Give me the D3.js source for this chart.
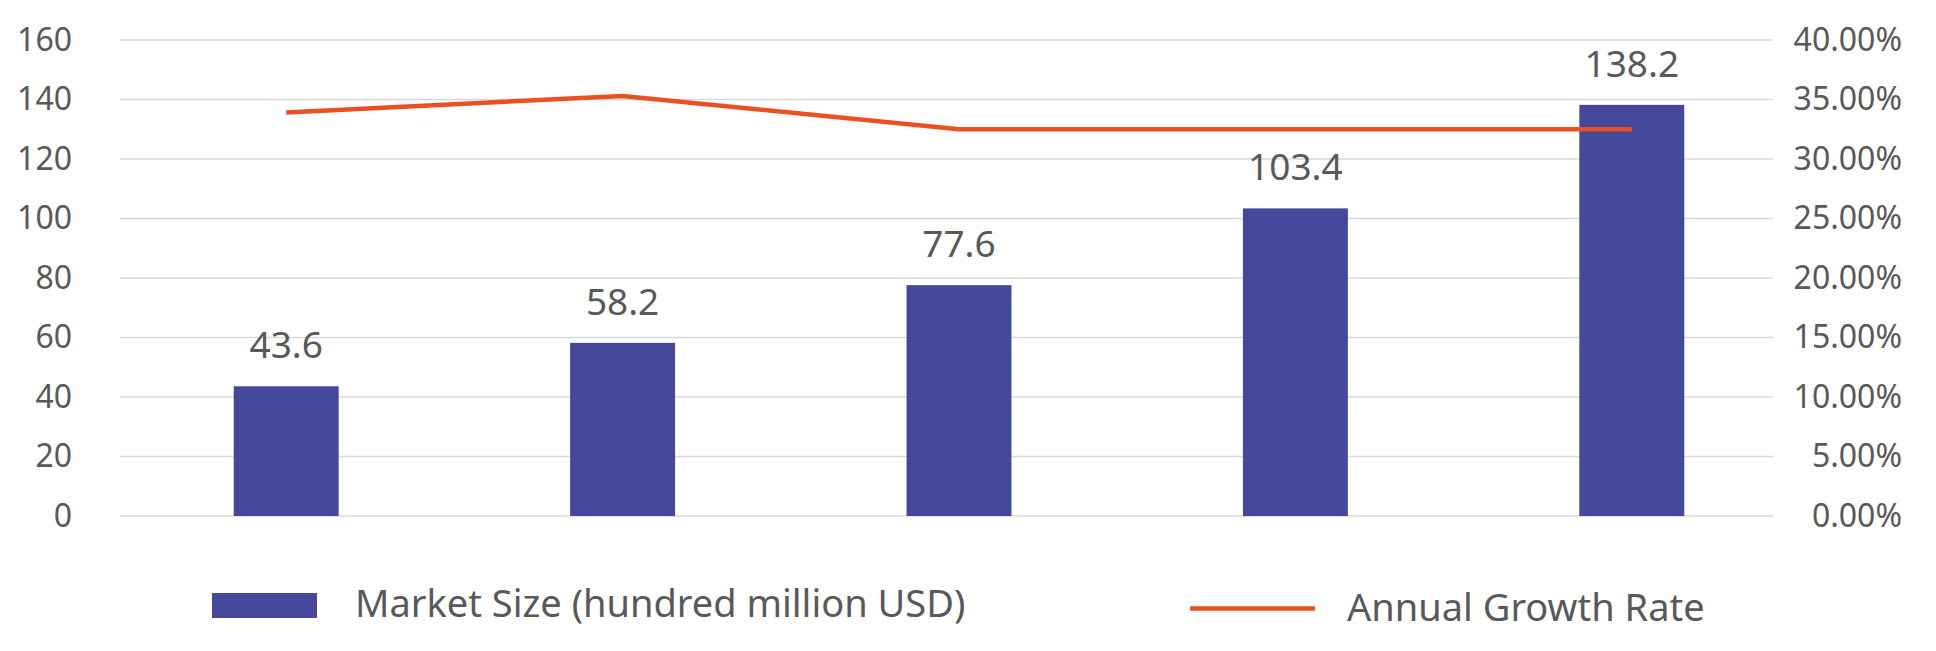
<!DOCTYPE html>
<html>
<head>
<meta charset="utf-8">
<script src="https://cdn.jsdelivr.net/npm/d3@7"></script>
<style>
    body { margin: 0; background: #fff; }
</style>
</head>
<body>
<script>
// data
var years = ["Y1", "Y2", "Y3", "Y4", "Y5"];
var marketSize = [43.6, 58.2, 77.6, 103.4, 138.2];
var growthRate = [0.339, 0.353, 0.325, 0.325, 0.325];
var leftTicks = [0, 20, 40, 60, 80, 100, 120, 140, 160];
var rightTicks = [0, 0.05, 0.10, 0.15, 0.20, 0.25, 0.30, 0.35, 0.40];
var seriesNames = ["Market Size (hundred million USD)", "Annual Growth Rate"];

// settings
var W = 1936, H = 651,
plot = {left: 120, right: 1773, top: 40, bottom: 516},
font = {family: "'Noto Sans', sans-serif", size: {tick: "32px", label: "37px", legend: "38px"}},
col = {bar: "#46499b", line: "#ea5020", text: "#595959", grid: "#d9d9d9"};

var svg = d3.select("body")
    .append("svg")
        .attr("width", W)
        .attr("height", H)
        .style("display", "block");

var x = d3.scaleBand()
    .domain(years)
    .range([118, 1800])
    .paddingInner(0.688)
    .paddingOuter(0.344);

var y = d3.scaleLinear()
    .domain([0, 160])
    .range([plot.bottom, plot.top]);

var y2 = d3.scaleLinear()
    .domain([0, 0.4])
    .range([plot.bottom, plot.top]);

// gridlines
svg.append("g")
    .selectAll("line")
    .data(leftTicks)
    .enter()
    .append("line")
        .attr("x1", plot.left)
        .attr("x2", plot.right)
        .attr("y1", function(d) { return y(d); })
        .attr("y2", function(d) { return y(d); })
        .attr("stroke", col.grid)
        .attr("stroke-width", 1.5);

// left axis
svg.append("g")
    .attr("transform", "translate(72,0)")
    .call(d3.axisLeft(y).tickValues(leftTicks).tickSize(0).tickPadding(0));
// right axis
svg.append("g")
    .attr("transform", "translate(1902,0)")
    .call(d3.axisLeft(y2).tickValues(rightTicks).tickFormat(d3.format(".2%")).tickSize(0).tickPadding(0));

svg.selectAll(".domain").remove();
svg.selectAll(".tick text")
    .attr("font-family", font.family)
    .attr("font-size", font.size.tick)
    .attr("fill", col.text);

// bars
svg.append("g")
    .selectAll("rect")
    .data(marketSize)
    .enter()
    .append("rect")
        .attr("x", function(d, i) { return x(years[i]); })
        .attr("y", function(d) { return y(d); })
        .attr("width", x.bandwidth())
        .attr("height", function(d) { return y(0) - y(d); })
        .attr("fill", col.bar);

// bar labels
svg.append("g")
    .selectAll("text")
    .data(marketSize)
    .enter()
    .append("text")
        .attr("x", function(d, i) { return x(years[i]) + x.bandwidth() / 2; })
        .attr("y", function(d) { return y(d) - 28; })
        .attr("text-anchor", "middle")
        .attr("font-family", font.family)
        .attr("font-size", font.size.label)
        .attr("fill", col.text)
        .text(function(d) { return d; });

// growth line
var line = d3.line()
    .x(function(d, i) { return x(years[i]) + x.bandwidth() / 2; })
    .y(function(d) { return y2(d); });

svg.append("path")
    .datum(growthRate)
    .attr("d", line)
    .attr("fill", "none")
    .attr("stroke", col.line)
    .attr("stroke-width", 4.5);

// legend
var legend = svg.append("g");
legend.append("rect")
    .attr("x", 212)
    .attr("y", 593)
    .attr("width", 105)
    .attr("height", 25)
    .attr("fill", col.bar);
legend.append("text")
    .attr("x", 355)
    .attr("y", 617)
    .text(seriesNames[0]);
legend.append("line")
    .attr("x1", 1190)
    .attr("x2", 1315)
    .attr("y1", 608.5)
    .attr("y2", 608.5)
    .attr("stroke", col.line)
    .attr("stroke-width", 4.5);
legend.append("text")
    .attr("x", 1347)
    .attr("y", 621)
    .text(seriesNames[1]);

legend.selectAll("text")
    .attr("font-family", font.family)
    .attr("font-size", font.size.legend)
    .attr("fill", col.text);
</script>
</body>
</html>
